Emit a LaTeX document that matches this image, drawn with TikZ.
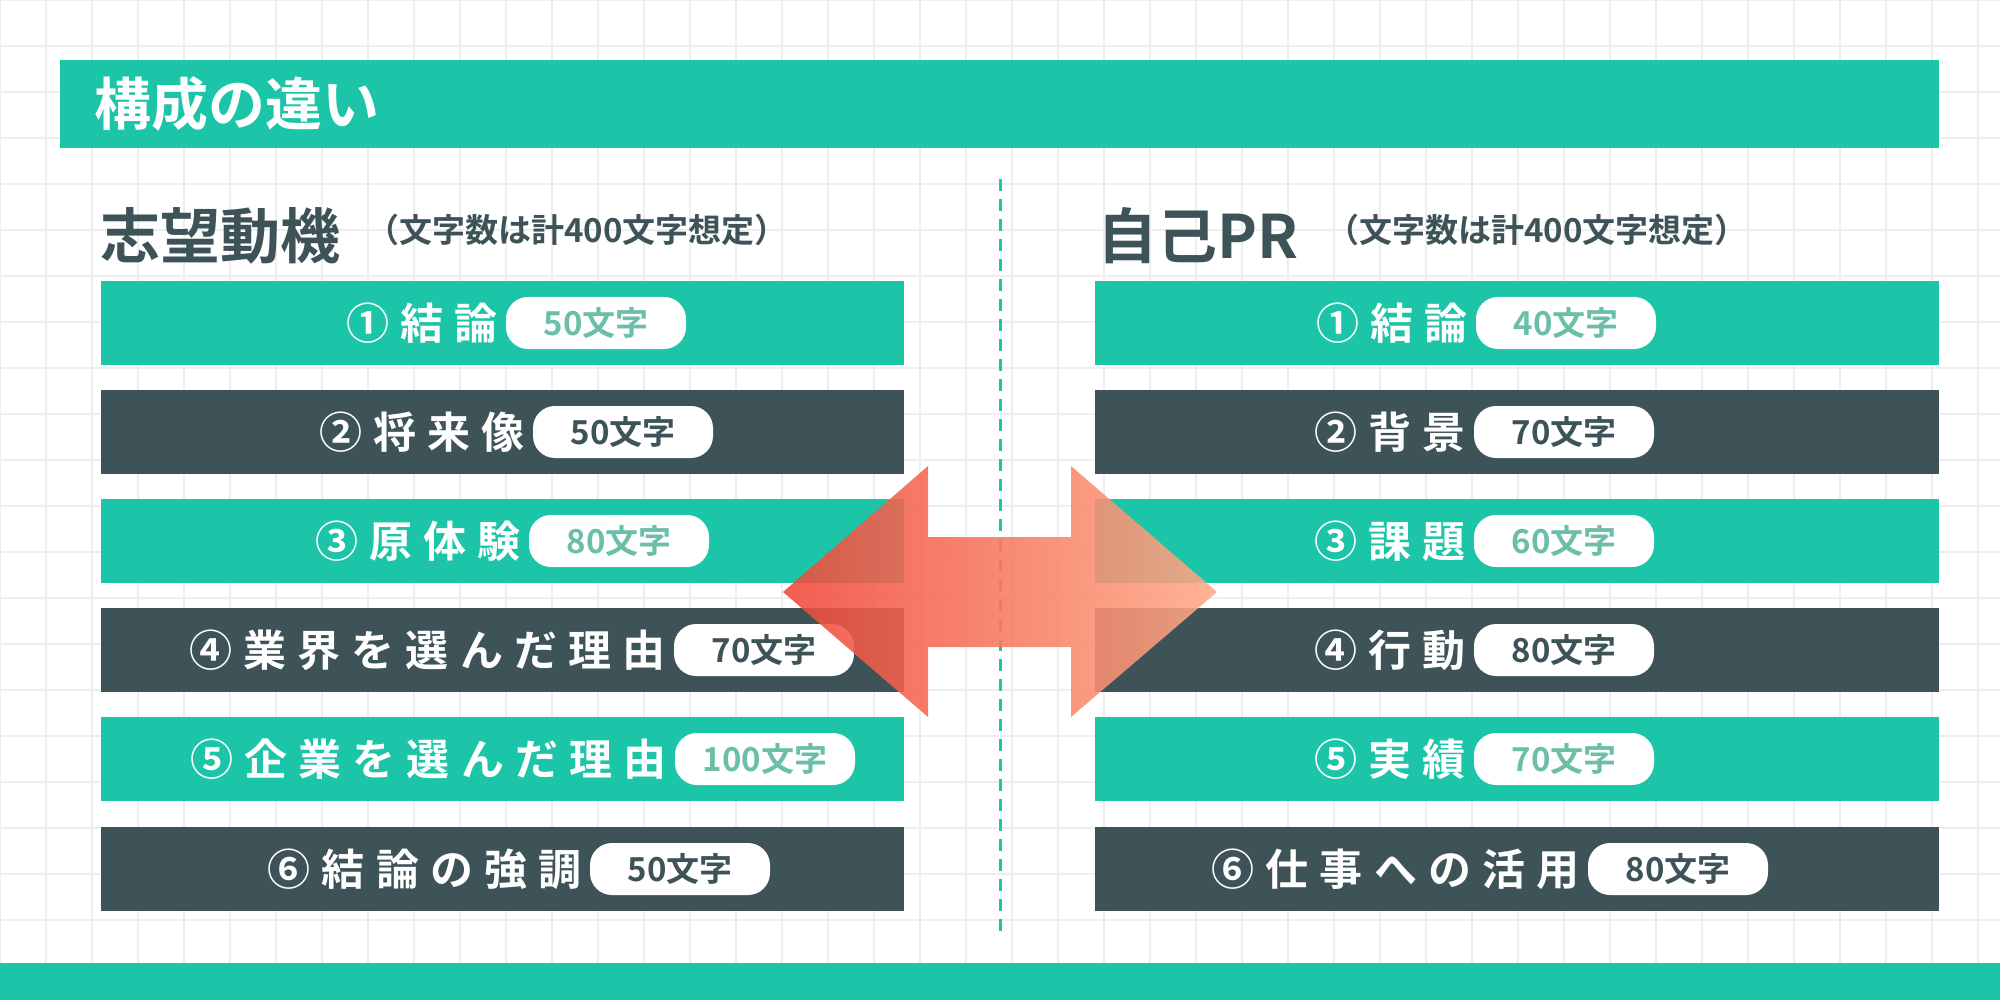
\documentclass[tikz,border=0pt]{standalone}
\usepackage{fontspec}
\setmainfont{Noto Sans CJK JP}[BoldFont={* Bold}]
\usetikzlibrary{fadings}
\definecolor{teal}{HTML}{1DC5A8}
\definecolor{dark}{HTML}{3D5357}
\definecolor{pilltxt}{HTML}{6BBFA8}
\definecolor{gridc}{HTML}{EEEEEE}
\begin{document}
\begin{tikzpicture}[x=1pt,y=-1pt,
  bar/.style={minimum width=#1, minimum height=84, inner sep=0, anchor=north west},
  lbl/.style={text=white, font=\bfseries\fontsize{43}{45}\selectfont, anchor=east, inner sep=0},
  pill/.style={fill=white, rounded corners=22, minimum width=180, minimum height=52, inner sep=4, font=\bfseries\fontsize{33}{34}\selectfont},
  head/.style={text=dark, font=\bfseries\fontsize{60}{62}\selectfont, anchor=west, inner sep=0},
  sub/.style={text=dark, font=\bfseries\fontsize{33}{34}\selectfont, anchor=west, inner sep=0}]
\useasboundingbox (0,0) rectangle (2000,1000);
\fill[white] (0,0) rectangle (2000,1000);
\foreach \g in {0,46,...,2000} \draw[gridc, line width=1.5] (\g,0) -- (\g,1000);
\foreach \g in {0,46,...,1000} \draw[gridc, line width=1.5] (0,\g) -- (2000,\g);
\fill[teal] (60,60) rectangle (1939,148);
\node[text=white, font=\bfseries\fontsize{57}{59}\selectfont, anchor=west, inner sep=0] (title) at (94,104) {構成の違い};
\fill[teal] (0,963) rectangle (2000,1000);
\coordinate (dtop) at (1000,179); \coordinate (dbot) at (1000,931);
\draw[teal, line width=3, dash pattern=on 12 off 8] (dtop) -- (dbot);
\node[head] (hl) at (100,236) {志望動機};
\node[sub] (sl) at (366,230) {（文字数は計400文字想定）};
\node[head] (hr) at (1097,236) {自己PR};
\node[sub] (sr) at (1326,230) {（文字数は計400文字想定）};
% rows
\foreach \i/\y/\c/\pc/\lx/\lt/\lp/\rx/\rt/\rp in {
 1/281/teal/pilltxt/596/①結論/50文字/1566/①結論/40文字,
 2/390/dark/dark/623/②将来像/50文字/1564/②背景/70文字,
 3/499/teal/pilltxt/619/③原体験/80文字/1564/③課題/60文字,
 4/608/dark/dark/764/④業界を選んだ理由/70文字/1564/④行動/80文字,
 5/717/teal/pilltxt/765/⑤企業を選んだ理由/100文字/1564/⑤実績/70文字,
 6/827/dark/dark/680/⑥結論の強調/50文字/1678/⑥仕事への活用/80文字} {
  \node[bar=803, fill=\c] (L\i) at (101,\y) {};
  \node[bar=844, fill=\c] (R\i) at (1095,\y) {};
  \node[pill, text=\pc] (LP\i) at (\lx,\y+42) {\lp};
  \node[lbl] (LT\i) at ([xshift=-8]LP\i.west) {\addfontfeature{LetterSpace=26}\lt};
  \node[pill, text=\pc] (RP\i) at (\rx,\y+42) {\rp};
  \node[lbl] (RT\i) at ([xshift=-8]RP\i.west) {\addfontfeature{LetterSpace=26}\rt};
}
% double arrow
\shade[left color={rgb,255:red,240;green,72;blue,58}, right color={rgb,255:red,255;green,170;blue,135}, opacity=0.88]
 (783,592) -- (928,466) -- (928,537) -- (1071,537) -- (1071,466) -- (1217,592) -- (1071,717) -- (1071,647) -- (928,647) -- (928,717) -- cycle;
\end{tikzpicture}
\end{document}
